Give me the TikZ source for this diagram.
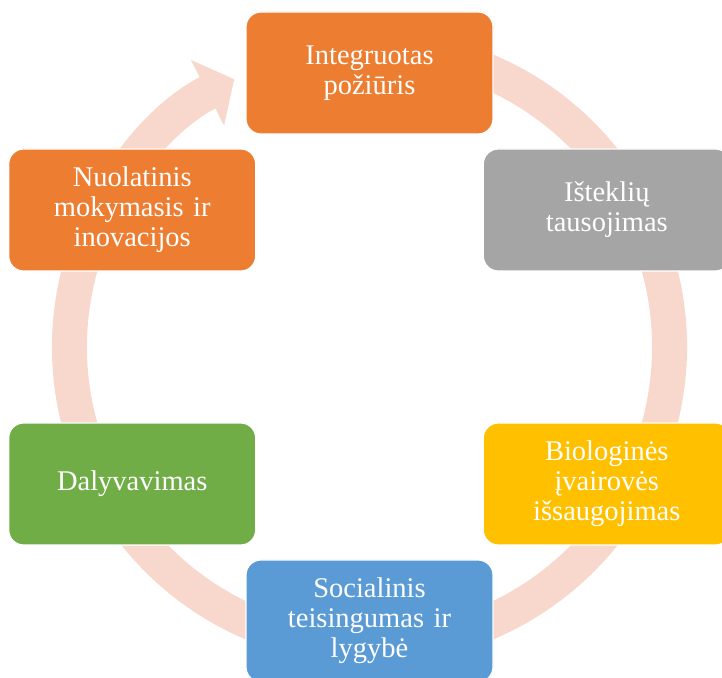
\documentclass[tikz,border=0pt]{standalone}
\usepackage{fontspec}
\setmainfont{Liberation Serif}
\usepackage{xcolor}
\usetikzlibrary{arrows.meta}
\definecolor{boxorange}{HTML}{ED7D31}
\definecolor{boxgray}{HTML}{A5A5A5}
\definecolor{boxgold}{HTML}{FFC000}
\definecolor{boxblue}{HTML}{5B9BD5}
\definecolor{boxgreen}{HTML}{70AD47}
\definecolor{ringpink}{HTML}{F8D8CD}
\tikzset{%
    % Specifications for style of nodes:
    base/.style = {
        rectangle, rounded corners=15pt, draw=white, line width=1.2pt,
        minimum width=247pt, minimum height=122pt, text width=240pt,
        inner sep=0pt, align=center, text=white,
        font=\fontsize{28.5}{30}\selectfont
    },
    focus/.style = {base, fill=boxorange},
    saving/.style = {base, fill=boxgray},
    nature/.style = {base, fill=boxgold},
    social/.style = {base, fill=boxblue},
    people/.style = {base, fill=boxgreen},
    ring/.style = {draw=ringpink, line width=35pt,
        -{Triangle[width=72pt,length=30pt]}}
}
\begin{document}
\begin{tikzpicture}[x=1pt,y=1pt]
\useasboundingbox (0,0) rectangle (722,677);
\coordinate (c) at (369.5,330);
% Cycle behind the boxes
\draw[ring] ([shift={(75:300)}]c) arc[start angle=75, end angle=-243.2, radius=300];
% Specification of nodes (position, etc.)
\node (integr) [focus]  at ([shift={(90:274)}]c)   {Integruotas\\požiūris};
\node (istekl) [saving] at ([shift={(30:274)}]c)   {Išteklių\\tausojimas};
\node (biolog) [nature] at ([shift={(-30:274)}]c)  {Biologinės\\įvairovės\\išsaugojimas};
\node (socia)  [social] at ([shift={(-90:274)}]c)  {Socialinis\\teisingumas ir\\lygybė};
\node (dalyv)  [people] at ([shift={(-150:274)}]c) {Dalyvavimas};
\node (nuolat) [focus]  at ([shift={(150:274)}]c)  {Nuolatinis\\mokymasis ir\\inovacijos};
\end{tikzpicture}
\end{document}
